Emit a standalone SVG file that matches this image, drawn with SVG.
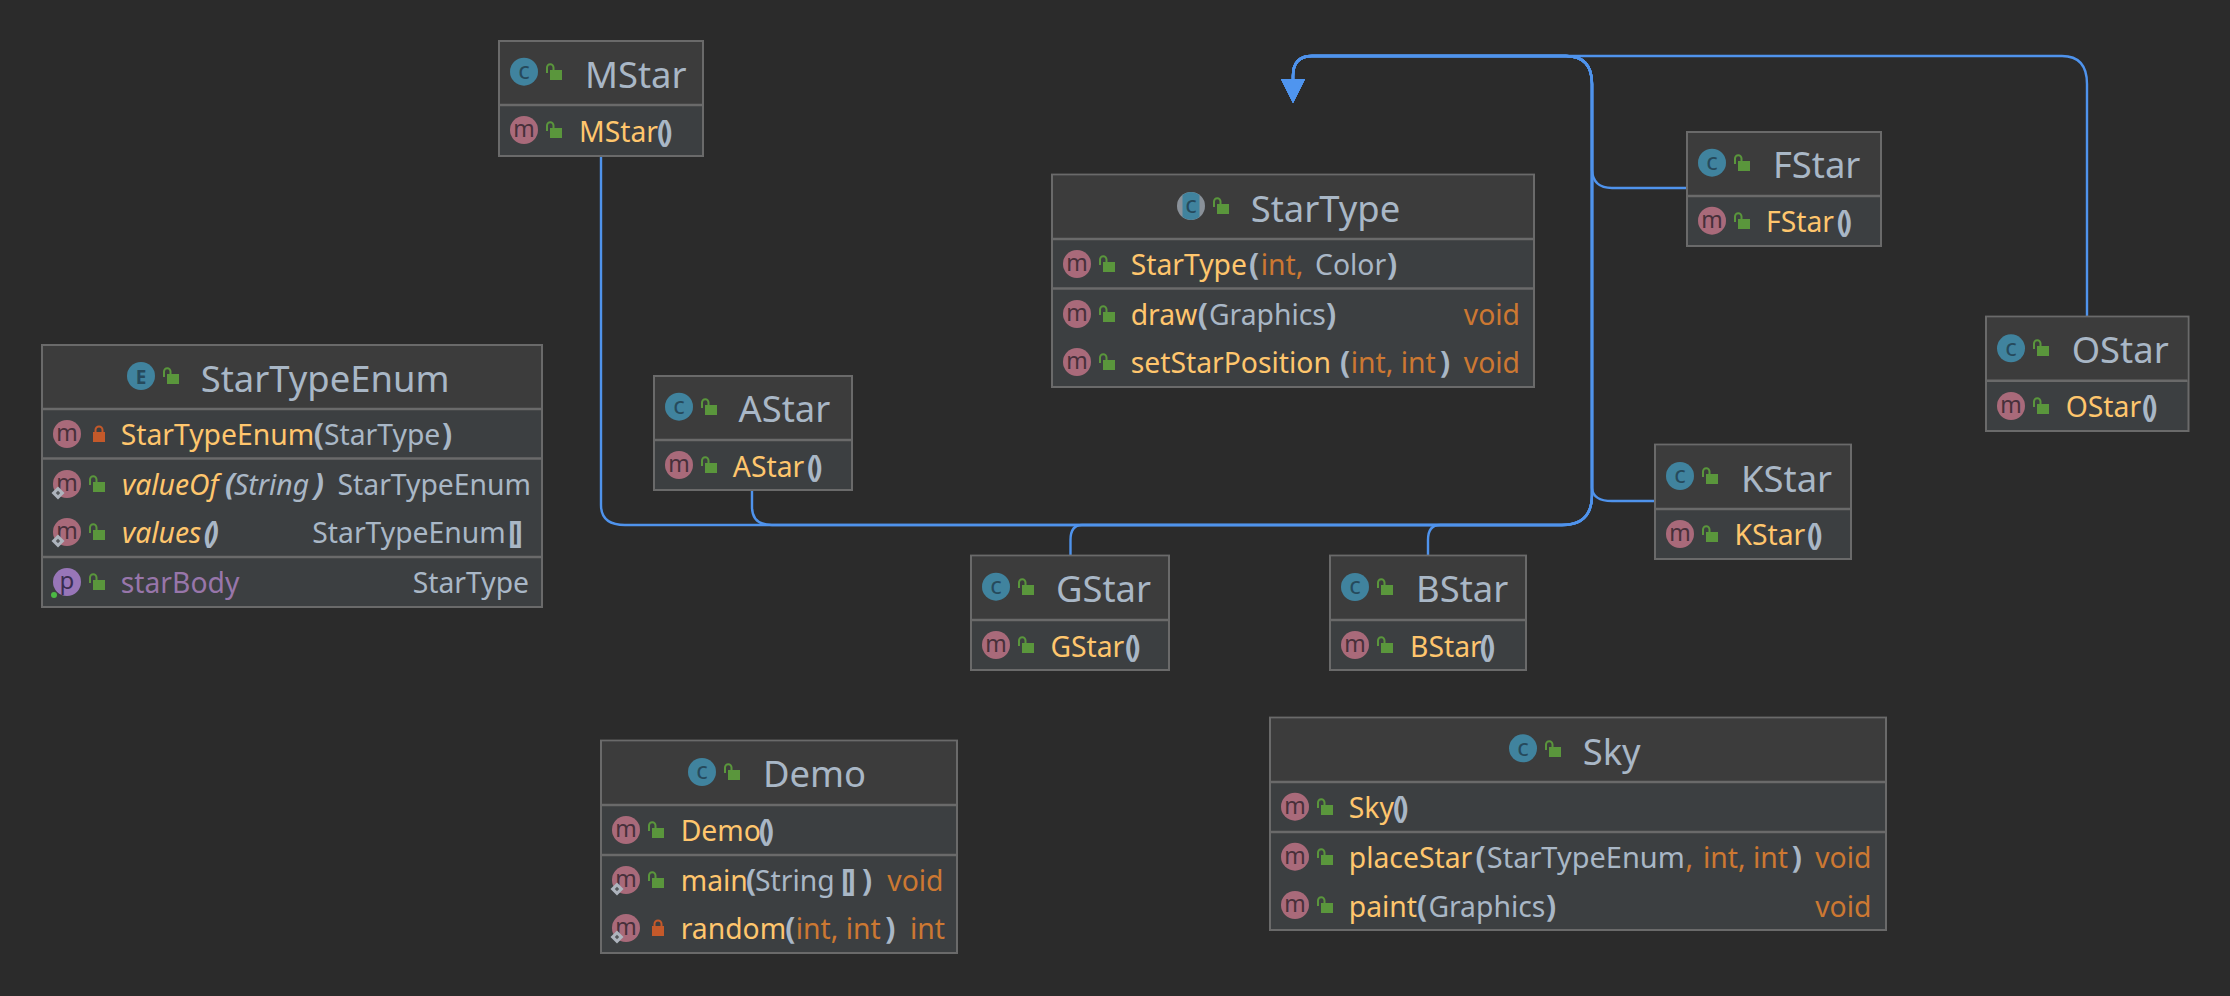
<svg xmlns="http://www.w3.org/2000/svg" width="2230" height="996" viewBox="0 0 2230 996">
<style>
text{font-family:"Noto Sans","Open Sans",sans-serif}
.box{fill:#3c3f41;stroke:#6a6a6a;stroke-width:2}
.hd{fill:#3c3c3c}
.dv{stroke:#6a6a6a;stroke-width:2.6;fill:none}
.t{font-size:36.4px;fill:#a9b7c6;transform:translateX(-1px)}
.m{font-size:28.3px;fill:#ffc66d;transform:translateX(-1px)}
.i{font-style:italic}
.g{font-size:28.3px;fill:#a9b7c6;transform:translateX(-1px)}
.k{font-size:28.3px;fill:#cc7832;transform:translateX(-1px)}
.u{font-size:28.3px;fill:#9876aa;transform:translateX(-1px)}
.p{font-size:30px;fill:#a9b7c6;font-weight:bold;transform:translateX(-3px)}
.pi{letter-spacing:-5px}
.e{text-anchor:end}
.cm{fill:#a96a7a}
.cc{fill:#40839e}
.cp{fill:#9876b8}
.lt{text-anchor:middle;font-size:24px}
.lm{fill:#47303a;font-size:23px}
.lc{fill:#264a5c}
.lp{fill:#3a2d50}
.con{fill:none;stroke:#4f93ec;stroke-width:2.4}
</style>
<defs>
<marker id="arrow" markerUnits="userSpaceOnUse" markerWidth="26" markerHeight="26" refX="0" refY="13" orient="auto"><path d="M0 1L24 13L0 25Z" fill="#4f95ef"/></marker>
<g id="ul"><rect x="4" y="6" width="12" height="10" fill="#5a963c"/><path d="M1 9V3.5a3.2 3.2 0 0 1 6.5 0V6" fill="none" stroke="#5a963c" stroke-width="2"/></g>
<g id="pl"><rect x="4" y="6" width="12" height="10" fill="#c4592a"/><path d="M6.5 6V4a3.5 3.5 0 0 1 7 0V6" fill="none" stroke="#c4592a" stroke-width="2"/></g>
<circle id="cm" r="14" class="cm"/>
<circle id="cc" r="14" class="cc"/>
<g id="st"><path d="M-6.5 0L0 -6.5L6.5 0L0 6.5Z" fill="#aeb4bd"/><path d="M-2.2 0L0 -2.2L2.2 0L0 2.2Z" fill="#55585c"/></g>
</defs>
<rect width="2230" height="996" fill="#2b2b2b"/>

<g id="connectors">
<path class="con" marker-end="url(#arrow)" d="M601 156V505Q601 525 625 525H1562Q1592 525 1592 495V84Q1592 56 1566 56H1312Q1293 56 1293 76V79"/>
<path class="con" marker-end="url(#arrow)" d="M752 491V507Q752 525 772 525H1562Q1592 525 1592 495V84Q1592 56 1566 56H1312Q1293 56 1293 76V79"/>
<path class="con" marker-end="url(#arrow)" d="M1070.5 555V540Q1070.5 525 1082 525H1562Q1592 525 1592 495V84Q1592 56 1566 56H1312Q1293 56 1293 76V79"/>
<path class="con" marker-end="url(#arrow)" d="M1428 555V540Q1428 525 1440 525H1562Q1592 525 1592 495V84Q1592 56 1566 56H1312Q1293 56 1293 76V79"/>
<path class="con" marker-end="url(#arrow)" d="M1654 501H1612Q1593 501 1592 488V84Q1592 56 1566 56H1312Q1293 56 1293 76V79"/>
<path class="con" marker-end="url(#arrow)" d="M1687 188H1612Q1593 188 1592 170V84Q1592 56 1566 56H1312Q1293 56 1293 76V79"/>
<path class="con" marker-end="url(#arrow)" d="M2087 316V84Q2087 56 2062 56H1312Q1293 56 1293 76V79"/>
</g>

<g id="MStar">
<rect class="box" x="499" y="41" width="204" height="115"/><rect class="hd" x="500" y="42" width="202" height="63"/><path class="dv" d="M500 105H702"/>
<use href="#cc" x="524" y="71.7"/><text class="lt lc" x="524" y="79">c</text><use href="#ul" x="546" y="64"/>
<text class="t" x="586" y="87.7">MStar</text>
<use href="#cm" x="524" y="130"/><text class="lt lm" x="524" y="137">m</text><use href="#ul" x="546" y="122"/>
<text class="m" x="580" y="141.7">MStar</text><text class="p pi" x="660" y="141.7">()</text>
</g>

<g id="StarType">
<rect class="box" x="1052" y="174.6" width="482" height="212.4"/><rect class="hd" x="1053" y="175.6" width="480" height="63"/><path class="dv" d="M1053 239H1533M1053 288.5H1533"/>
<circle cx="1191" cy="206" r="14" fill="#8a9199"/><path d="M-8.5 -11.1A14 14 0 0 1 8.5 -11.1L8.5 11.1A14 14 0 0 1 -8.5 11.1Z" transform="translate(1191 206)" class="cc"/><text class="lt lc" x="1191" y="213">c</text><use href="#ul" x="1213" y="198"/>
<text class="t" x="1251.7" y="221.7">StarType</text>
<use href="#cm" x="1077" y="264"/><text class="lt lm" x="1077" y="271">m</text><use href="#ul" x="1099" y="256"/>
<text class="m" x="1131.7" y="275">StarType</text><text class="p" x="1252" y="275">(</text><text class="k" x="1261.7" y="275">int,</text><text class="g" x="1316" y="275">Color</text><text class="p" x="1390" y="275">)</text>
<use href="#cm" x="1077" y="314"/><text class="lt lm" x="1077" y="321">m</text><use href="#ul" x="1099" y="306"/>
<text class="m" x="1131.7" y="325">draw</text><text class="p" x="1200.7" y="325">(</text><text class="g" x="1210" y="325">Graphics</text><text class="p" x="1329" y="325">)</text><text class="k e" x="1521" y="325">void</text>
<use href="#cm" x="1077" y="362"/><text class="lt lm" x="1077" y="369">m</text><use href="#ul" x="1099" y="354"/>
<text class="m" x="1131.7" y="373.3">setStarPosition</text><text class="p" x="1343" y="373.3">(</text><text class="k" x="1351.7" y="373.3">int, int</text><text class="p" x="1443" y="373.3">)</text><text class="k e" x="1521" y="373.3">void</text>
</g>

<g id="StarTypeEnum">
<rect class="box" x="42" y="345" width="500" height="262"/><rect class="hd" x="43" y="346" width="498" height="63"/><path class="dv" d="M43 409H541M43 458.5H541M43 557H541"/>
<use href="#cc" x="141" y="376"/><text class="lt" x="141" y="384" style="fill:#264a5c;font-weight:bold;font-size:19px">E</text><use href="#ul" x="163" y="368"/>
<text class="t" x="201.7" y="391.7">StarTypeEnum</text>
<use href="#cm" x="67" y="434"/><text class="lt lm" x="67" y="441">m</text><use href="#pl" x="89" y="426"/>
<text class="m" x="121.7" y="445">StarTypeEnum</text><text class="p" x="316.7" y="445">(</text><text class="g" x="325" y="445">StarType</text><text class="p" x="445" y="445">)</text>
<use href="#cm" x="67" y="484"/><text class="lt lm" x="67" y="491">m</text><use href="#st" x="58" y="493"/><use href="#ul" x="89" y="476"/>
<text class="m i" x="123" y="495">valueOf</text><text class="p i" x="228" y="495">(</text><text class="g i" x="235" y="495">String</text><text class="p i" x="316.7" y="495">)</text><text class="g e" x="532" y="495">StarTypeEnum</text>
<use href="#cm" x="67" y="532"/><text class="lt lm" x="67" y="539">m</text><use href="#st" x="58" y="541"/><use href="#ul" x="89" y="524"/>
<text class="m i" x="123" y="543.3">values</text><text class="p i pi" x="206.7" y="543.3">()</text><text class="g" x="313.3" y="543.3">StarTypeEnum</text><text class="p pi" x="511" y="543.3">[]</text>
<circle cx="67" cy="582" r="14" class="cp"/><text class="lt lp" x="67" y="589">p</text><circle cx="54" cy="595" r="3" fill="#4cb944"/><use href="#ul" x="89" y="574"/>
<text class="u" x="121.7" y="593.3">starBody</text><text class="g e" x="530" y="593.3">StarType</text>
</g>

<g id="AStar">
<rect class="box" x="654" y="376" width="198" height="114"/><rect class="hd" x="655" y="377" width="196" height="63"/><path class="dv" d="M655 440H851"/>
<use href="#cc" x="679" y="406.7"/><text class="lt lc" x="679" y="414">c</text><use href="#ul" x="701" y="399"/>
<text class="t" x="739.5" y="422.3">AStar</text>
<use href="#cm" x="679" y="465"/><text class="lt lm" x="679" y="472">m</text><use href="#ul" x="701" y="457"/>
<text class="m" x="733.8" y="476.7">AStar</text><text class="p pi" x="810" y="476.7">()</text>
</g>

<g id="GStar">
<rect class="box" x="971" y="555.6" width="198" height="114.4"/><rect class="hd" x="972" y="556.6" width="196" height="63"/><path class="dv" d="M972 620H1168"/>
<use href="#cc" x="996" y="586.7"/><text class="lt lc" x="996" y="594">c</text><use href="#ul" x="1018" y="579"/>
<text class="t" x="1057" y="602.3">GStar</text>
<use href="#cm" x="996" y="645"/><text class="lt lm" x="996" y="652">m</text><use href="#ul" x="1018" y="637"/>
<text class="m" x="1051.4" y="656.7">GStar</text><text class="p pi" x="1128" y="656.7">()</text>
</g>

<g id="BStar">
<rect class="box" x="1330" y="555.6" width="196" height="114.4"/><rect class="hd" x="1331" y="556.6" width="194" height="63"/><path class="dv" d="M1331 620H1525"/>
<use href="#cc" x="1355" y="587"/><text class="lt lc" x="1355" y="594">c</text><use href="#ul" x="1377" y="579"/>
<text class="t" x="1417" y="602.3">BStar</text>
<use href="#cm" x="1355" y="645"/><text class="lt lm" x="1355" y="652">m</text><use href="#ul" x="1377" y="637"/>
<text class="m" x="1411" y="656.7">BStar</text><text class="p pi" x="1482.8" y="656.7">()</text>
</g>

<g id="KStar">
<rect class="box" x="1655" y="444.6" width="196" height="114.4"/><rect class="hd" x="1656" y="445.6" width="194" height="63"/><path class="dv" d="M1656 509H1850"/>
<use href="#cc" x="1680" y="476"/><text class="lt lc" x="1680" y="483">c</text><use href="#ul" x="1702" y="468"/>
<text class="t" x="1742" y="491.7">KStar</text>
<use href="#cm" x="1680" y="534"/><text class="lt lm" x="1680" y="541">m</text><use href="#ul" x="1702" y="526"/>
<text class="m" x="1735.4" y="545">KStar</text><text class="p pi" x="1810" y="545">()</text>
</g>

<g id="FStar">
<rect class="box" x="1687" y="132" width="194" height="114"/><rect class="hd" x="1688" y="133" width="192" height="63"/><path class="dv" d="M1688 196H1880"/>
<use href="#cc" x="1712" y="162.7"/><text class="lt lc" x="1712" y="170">c</text><use href="#ul" x="1734" y="155"/>
<text class="t" x="1773.9" y="178.3">FStar</text>
<use href="#cm" x="1712" y="220.7"/><text class="lt lm" x="1712" y="228">m</text><use href="#ul" x="1734" y="213"/>
<text class="m" x="1767" y="231.7">FStar</text><text class="p pi" x="1839.7" y="231.7">()</text>
</g>

<g id="OStar">
<rect class="box" x="1986" y="316.6" width="202.5" height="114.4"/><rect class="hd" x="1987" y="317.6" width="200.5" height="63"/><path class="dv" d="M1987 380.7H2187.5"/>
<use href="#cc" x="2011" y="348.3"/><text class="lt lc" x="2011" y="355.5">c</text><use href="#ul" x="2033" y="340"/>
<text class="t" x="2072.7" y="363.3">OStar</text>
<use href="#cm" x="2011" y="406"/><text class="lt lm" x="2011" y="413">m</text><use href="#ul" x="2033" y="398"/>
<text class="m" x="2066.7" y="417.3">OStar</text><text class="p pi" x="2145" y="417.3">()</text>
</g>

<g id="Demo">
<rect class="box" x="601" y="740.6" width="356" height="212.4"/><rect class="hd" x="602" y="741.6" width="354" height="63"/><path class="dv" d="M602 805H956M602 855H956"/>
<use href="#cc" x="702" y="772"/><text class="lt lc" x="702" y="779">c</text><use href="#ul" x="724" y="764"/>
<text class="t" x="764" y="787.3">Demo</text>
<use href="#cm" x="626" y="830"/><text class="lt lm" x="626" y="837">m</text><use href="#ul" x="648" y="822"/>
<text class="m" x="681.7" y="840.7">Demo</text><text class="p pi" x="761.7" y="840.7">()</text>
<use href="#cm" x="626" y="880"/><text class="lt lm" x="626" y="887">m</text><use href="#st" x="617" y="889"/><use href="#ul" x="648" y="872"/>
<text class="m" x="681.7" y="890.7">main</text><text class="p" x="749" y="890.7">(</text><text class="g" x="756" y="890.7">String</text><text class="p pi" x="844" y="890.7">[]</text><text class="p" x="865" y="890.7">)</text><text class="k" x="888.3" y="890.7">void</text>
<use href="#cm" x="626" y="928"/><text class="lt lm" x="626" y="935">m</text><use href="#st" x="617" y="937"/><use href="#pl" x="648" y="920"/>
<text class="m" x="681.7" y="939">random</text><text class="p" x="788.3" y="939">(</text><text class="k" x="796.7" y="939">int, int</text><text class="p" x="888.3" y="939">)</text><text class="k e" x="946" y="939">int</text>
</g>

<g id="Sky">
<rect class="box" x="1270" y="717.6" width="616" height="212.4"/><rect class="hd" x="1271" y="718.6" width="614" height="63"/><path class="dv" d="M1271 782H1885M1271 832H1885"/>
<use href="#cc" x="1523" y="748.3"/><text class="lt lc" x="1523" y="756">c</text><use href="#ul" x="1545" y="741"/>
<text class="t" x="1583.7" y="765">Sky</text>
<use href="#cm" x="1295" y="806.7"/><text class="lt lm" x="1295" y="814">m</text><use href="#ul" x="1317" y="799"/>
<text class="m" x="1349.8" y="818.3">Sky</text><text class="p pi" x="1396" y="818.3">()</text>
<use href="#cm" x="1295" y="856.7"/><text class="lt lm" x="1295" y="864">m</text><use href="#ul" x="1317" y="849"/>
<text class="m" x="1349.8" y="868.3">placeStar</text><text class="p" x="1478.4" y="868.3">(</text><text class="g" x="1487.8" y="868.3" textLength="198" lengthAdjust="spacingAndGlyphs">StarTypeEnum</text><text class="k" x="1686.5" y="868.3">,</text><text class="k" x="1704" y="868.3">int, int</text><text class="p" x="1794.7" y="868.3">)</text><text class="k e" x="1872.4" y="868.3">void</text>
<use href="#cm" x="1295" y="905"/><text class="lt lm" x="1295" y="912">m</text><use href="#ul" x="1317" y="897"/>
<text class="m" x="1349.8" y="916.7">paint</text><text class="p" x="1420" y="916.7">(</text><text class="g" x="1429.4" y="916.7">Graphics</text><text class="p" x="1549" y="916.7">)</text><text class="k e" x="1872.4" y="916.7">void</text>
</g>
</svg>
